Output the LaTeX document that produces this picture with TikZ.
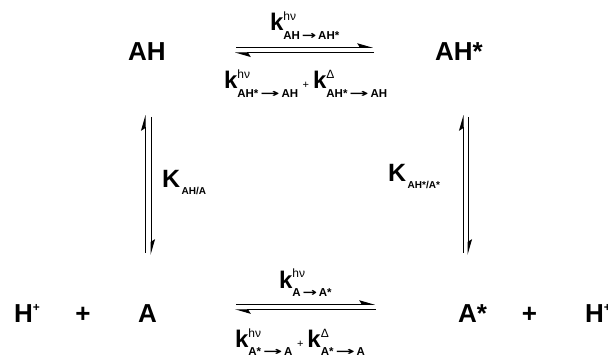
\documentclass[tikz,border=0pt]{standalone}
\usepackage{fontspec}
\setmainfont{Liberation Sans}
\newfontfamily\arrfont{DejaVu Sans}
\usetikzlibrary{arrows.meta}
\newcommand\ra{\,\scalebox{1.5}[1.0]{\arrfont\bfseries →}\,}
\newcommand\rb{\,\scalebox{2.0}[1.0]{\arrfont\bfseries →}\,}
\newcommand\rk[2]{{\fontsize{24}{24}\selectfont\bfseries k}\rlap{\raisebox{10pt}{\fontsize{12}{12}\selectfont #1}}\raisebox{-8.5pt}{\fontsize{11.5}{11.5}\selectfont\bfseries #2}}
\newcommand\eqK[1]{{\fontsize{25}{25}\selectfont\bfseries K}\,\raisebox{-7pt}{\fontsize{10}{10}\selectfont\bfseries #1}}
\newcommand\spc[1]{{\fontsize{26}{26}\selectfont\bfseries #1}}
\newcommand\smallplus{{\fontsize{11}{11}\selectfont\hspace{4.5pt}+\hspace{4pt}}}
\begin{document}
\begin{tikzpicture}[x=1pt,y=-1pt,
  txt/.style={inner sep=0pt,outer sep=0pt,anchor=base west},
  harp/.style={line width=1pt,-{Stealth[harpoon,length=14pt,width=8pt,inset=2.5pt]}}]
\useasboundingbox (0,0) rectangle (608,358);
% species
\node[txt] (AH) at (128,61) {\spc{AH}};
\node[txt] (AHs) at (435,61) {\spc{AH*}};
\node[txt] (Hp1) at (14,322) {\spc{H}\raisebox{10pt}{\fontsize{12}{12}\selectfont\bfseries +}};
\node[inner sep=0pt,anchor=base] (pl1) at (83,322) {\spc{+}};
\node[txt] (A) at (138,322) {\spc{A}};
\node[txt] (As) at (458,322) {\spc{A*}};
\node[inner sep=0pt,anchor=base] (pl2) at (529.5,322) {\spc{+}};
\node[txt] (Hp2) at (585,322) {\spc{H}\raisebox{10pt}{\fontsize{12}{12}\selectfont\bfseries +}};
% rate labels
\node[txt] (k1) at (270,30.7) {\rk{hν}{AH\ra AH*}};
\node[txt] (k2) at (224,89) {\rk{hν}{AH*\rb AH}\smallplus\rk{Δ}{AH*\rb AH}};
\node[txt] (k3) at (279,288) {\rk{hν}{A\ra A*}};
\node[txt] (k4) at (235,347) {\rk{hν}{A*\rb A}\smallplus\rk{Δ}{A*\rb A}};
\node[txt] (K1) at (162,188) {\eqK{AH/A}};
\node[txt] (K2) at (388,182) {\eqK{AH*/A*}};
% arrow end points
\coordinate (t1a) at (236,47.3); \coordinate (t1b) at (373,47.3);
\coordinate (t2a) at (374,53); \coordinate (t2b) at (235,53);
\coordinate (b1a) at (236,304.3); \coordinate (b1b) at (375,304.3);
\coordinate (b2a) at (376,309.8); \coordinate (b2b) at (235,309.8);
\coordinate (l1a) at (145,253); \coordinate (l1b) at (145,115);
\coordinate (l2a) at (151,117); \coordinate (l2b) at (151,255);
\coordinate (r1a) at (463,253); \coordinate (r1b) at (463,115);
\coordinate (r2a) at (468,117); \coordinate (r2b) at (468,255);
\draw[harp] (t1a) -- (t1b);
\draw[harp] (t2a) -- (t2b);
\draw[harp] (b1a) -- (b1b);
\draw[harp] (b2a) -- (b2b);
\draw[harp] (l1a) -- (l1b);
\draw[harp] (l2a) -- (l2b);
\draw[harp] (r1a) -- (r1b);
\draw[harp] (r2a) -- (r2b);
\end{tikzpicture}
\end{document}
